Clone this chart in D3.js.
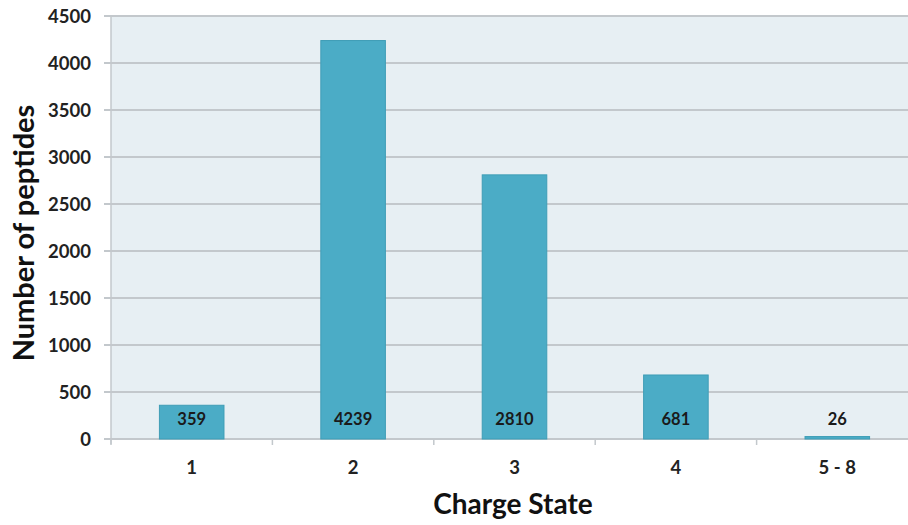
<!DOCTYPE html>
<html><head><meta charset="utf-8">
<script src="https://cdn.jsdelivr.net/npm/d3@7"></script>
<style>body{margin:0;background:#fff;} svg{display:block;} text{font-family:Lato,"Open Sans",sans-serif;}</style>
</head><body><svg id="c" width="908" height="525"></svg>
<script>
const categories = ["1", "2", "3", "4", "5 - 8"];
const peptides = [359, 4239, 2810, 681, 26];
const yTicks = [0, 500, 1000, 1500, 2000, 2500, 3000, 3500, 4000, 4500];

const svg = d3.select("#c");
const pL = 111, pR = 918, pT = 16, pB = 439;
const x = d3.scaleBand().domain(categories).range([pL, pR]).paddingInner(0.6).paddingOuter(0.3);
const xb = d3.scaleBand().domain(categories).range([pL, pR]);
const y = d3.scaleLinear().domain([0, 4500]).range([pB, pT]);

svg.append("rect").attr("x", pL).attr("y", pT).attr("width", pR - pL).attr("height", pB - pT).attr("fill", "#E7EFF3");

// gridlines
svg.append("g").selectAll("line").data(yTicks).join("line")
  .attr("x1", pL - 7).attr("x2", pR).attr("y1", d => y(d)).attr("y2", d => y(d))
  .attr("stroke", "#C3C8CC").attr("stroke-width", 2);

// y axis line
svg.append("line").attr("x1", pL).attr("x2", pL).attr("y1", pT).attr("y2", pB + 5)
  .attr("stroke", "#C3C8CC").attr("stroke-width", 1.5);

// x tick marks at band boundaries
svg.append("g").selectAll("line").data(categories).join("line")
  .attr("x1", d => xb(d)).attr("x2", d => xb(d)).attr("y1", pB).attr("y2", pB + 6)
  .attr("stroke", "#C3C8CC").attr("stroke-width", 1.5);

// bars
svg.append("g").selectAll("rect").data(peptides).join("rect")
  .attr("x", (d, i) => x(categories[i])).attr("width", x.bandwidth())
  .attr("y", d => y(d)).attr("height", d => pB - y(d))
  .attr("fill", "#4BACC6").attr("stroke", "#3F9DB6").attr("stroke-width", 1);

// value labels
svg.append("g").selectAll("text").data(peptides).join("text")
  .attr("x", (d, i) => x(categories[i]) + x.bandwidth() / 2).attr("y", 425)
  .attr("text-anchor", "middle").attr("font-size", 16.5).attr("font-weight", 700).attr("fill", "#1a1a1a")
  .text(d => d);

// y tick labels
svg.append("g").selectAll("text").data(yTicks).join("text")
  .attr("x", 91).attr("y", d => y(d) + 6.5).attr("text-anchor", "end")
  .attr("font-size", 18.5).attr("font-weight", 700).attr("fill", "#222").text(d => d);

// x tick labels
svg.append("g").selectAll("text").data(categories).join("text")
  .attr("x", d => xb(d) + xb.bandwidth() / 2).attr("y", 474).attr("text-anchor", "middle")
  .attr("font-size", 18.5).attr("font-weight", 700).attr("fill", "#222").text(d => d);

// axis titles
svg.append("text").attr("x", 513).attr("y", 514).attr("text-anchor", "middle")
  .attr("font-size", 28).attr("font-weight", 700).attr("fill", "#111").text("Charge State");
svg.append("text").attr("transform", "translate(34,233) rotate(-90)").attr("text-anchor", "middle")
  .attr("font-size", 29).attr("font-weight", 700).attr("fill", "#111").text("Number of peptides");
</script></body></html>
